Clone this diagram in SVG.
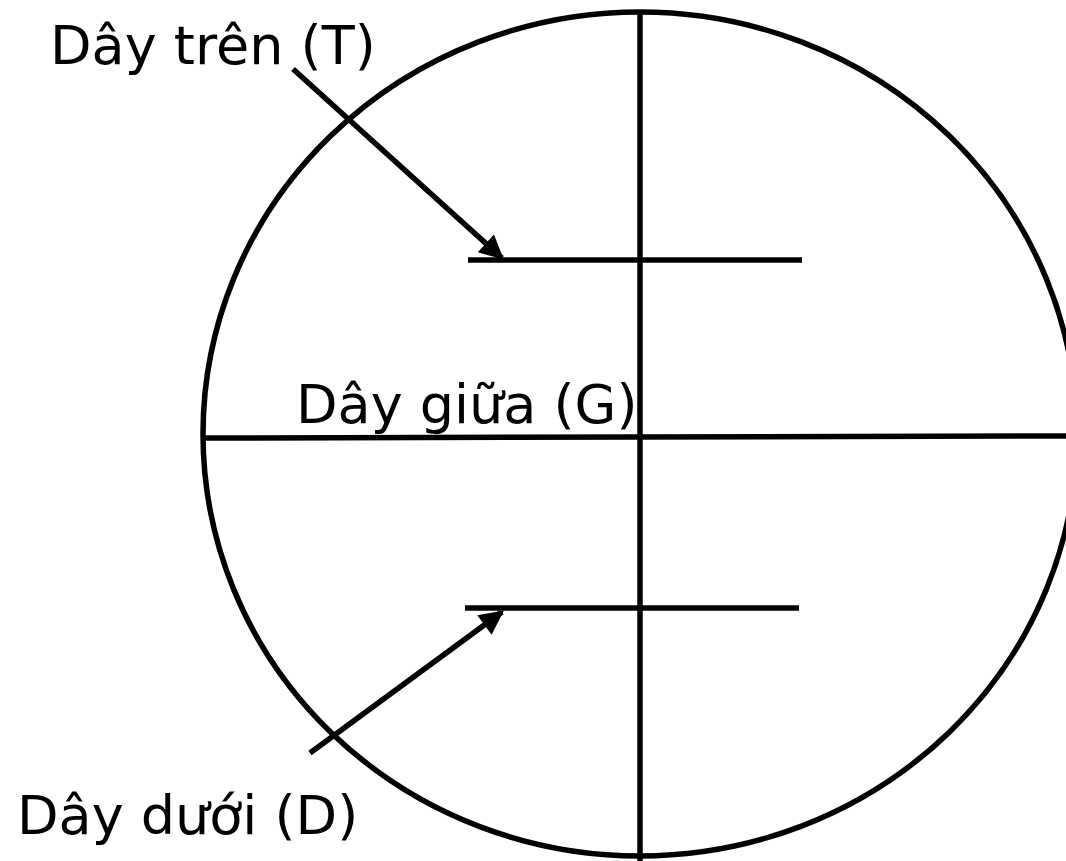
<svg xmlns="http://www.w3.org/2000/svg" width="1066" height="861" viewBox="0 0 1066 861">
<style>
.s{stroke:#000;stroke-width:5.5;fill:none}
.t{font-family:"DejaVu Sans",Verdana,sans-serif;font-size:54px;fill:#000}
</style>
<defs>
<marker id="ah" viewBox="0 0 10 10" refX="9" refY="5" markerWidth="5" markerHeight="4.4" orient="auto" markerUnits="strokeWidth">
<path d="M0,0 L10,5 L0,10 z" fill="#000"/>
</marker>
</defs>
<rect width="1066" height="861" fill="#fff"/>
<g id="reticle">
<ellipse class="s" cx="640" cy="434" rx="437" ry="422"/>
<line class="s" x1="640" y1="12" x2="640" y2="861"/>
<line class="s" x1="204" y1="438" x2="1066" y2="436"/>
<line class="s" x1="468" y1="260" x2="802" y2="260"/>
<line class="s" x1="465" y1="608" x2="799" y2="608"/>
</g>
<g id="labels">
<text class="t" x="50" y="64">Dây trên (T)</text>
<text class="t" x="296" y="423">Dây giữa (G)</text>
<text class="t" x="17" y="834">Dây dưới (D)</text>
</g>
<g id="connectors">
<line class="s" x1="293" y1="69" x2="502" y2="258" marker-end="url(#ah)"/>
<line class="s" x1="310" y1="753" x2="502" y2="612" marker-end="url(#ah)"/>
</g>
</svg>
